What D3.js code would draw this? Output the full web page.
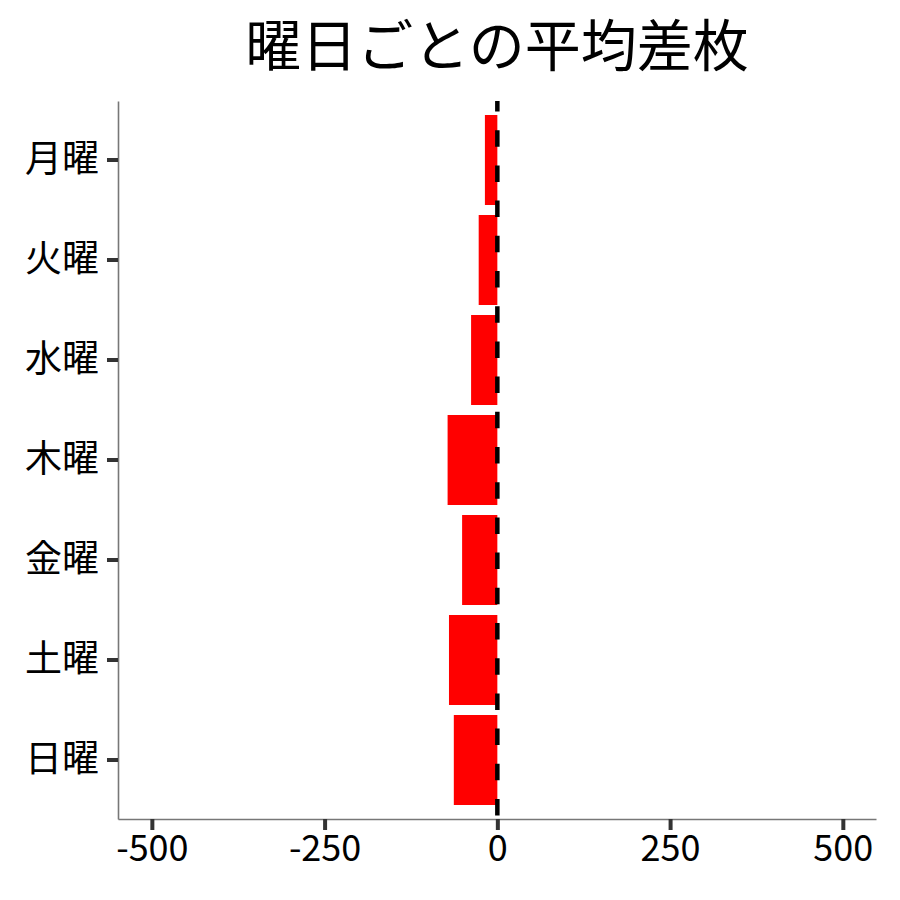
<!DOCTYPE html>
<html>
<head>
<meta charset="utf-8">
<script src="https://cdn.jsdelivr.net/npm/d3@7"></script>
<style>
  body { margin: 0; background: #fff; }
  svg text { font-family: "Noto Sans CJK JP", "Noto Sans", sans-serif; }
</style>
</head>
<body>
<div id="chart"></div>
<script>
// 曜日ごとの平均差枚
var days = ["月曜", "火曜", "水曜", "木曜", "金曜", "土曜", "日曜"];
var avgDiff = [-18, -27, -38, -72, -51, -70, -63];
var xTicks = [-500, -250, 0, 250, 500];

var w = 900, h = 900;
var padL = 118, padR = 876, padT = 101, padB = 819;

var svg = d3.select("#chart").append("svg")
  .attr("width", w)
  .attr("height", h);

var x = d3.scaleLinear().domain([-549, 548]).range([padL, padR]);
var y = d3.scaleBand().domain(days).range([padT, padB]).paddingInner(0.1).paddingOuter(0.14);

// bars
svg.selectAll("rect.bar")
  .data(days)
  .enter().append("rect")
  .attr("class", "bar")
  .attr("x", function(d, i) { return x(Math.min(0, avgDiff[i])); })
  .attr("width", function(d, i) { return Math.abs(x(avgDiff[i]) - x(0)); })
  .attr("y", function(d) { return y(d); })
  .attr("height", y.bandwidth())
  .attr("fill", "#ff0000");

// zero line
svg.append("line")
  .attr("x1", x(0)).attr("x2", x(0))
  .attr("y1", padT).attr("y2", padB)
  .attr("stroke", "#000")
  .attr("stroke-width", 4.5)
  .attr("stroke-dasharray", "16.5,18.7")
  .attr("stroke-dashoffset", 6);

// axes
var xAxis = svg.append("g")
  .attr("transform", "translate(0," + padB + ")")
  .call(d3.axisBottom(x).tickValues(xTicks).tickSize(11).tickPadding(5).tickSizeOuter(0));

var yAxis = svg.append("g")
  .attr("transform", "translate(" + padL + ",0)")
  .call(d3.axisLeft(y).tickSize(11).tickPadding(8).tickSizeOuter(0));

[xAxis, yAxis].forEach(function(g) {
  g.select(".domain").attr("stroke", "#777").attr("stroke-width", 1.6);
  g.selectAll(".tick line").attr("stroke", "#333").attr("stroke-width", 4);
  g.selectAll(".tick text").attr("fill", "#000").style("font-size", "36px");
});
yAxis.selectAll(".tick text").style("font-size", "37px");
xAxis.selectAll(".tick text").text(function(d) { return d; });

// title
svg.append("text")
  .attr("x", (padL + padR) / 2)
  .attr("y", 66)
  .attr("text-anchor", "middle")
  .style("font-size", "56px")
  .attr("fill", "#000")
  .text("曜日ごとの平均差枚");
</script>
</body>
</html>
